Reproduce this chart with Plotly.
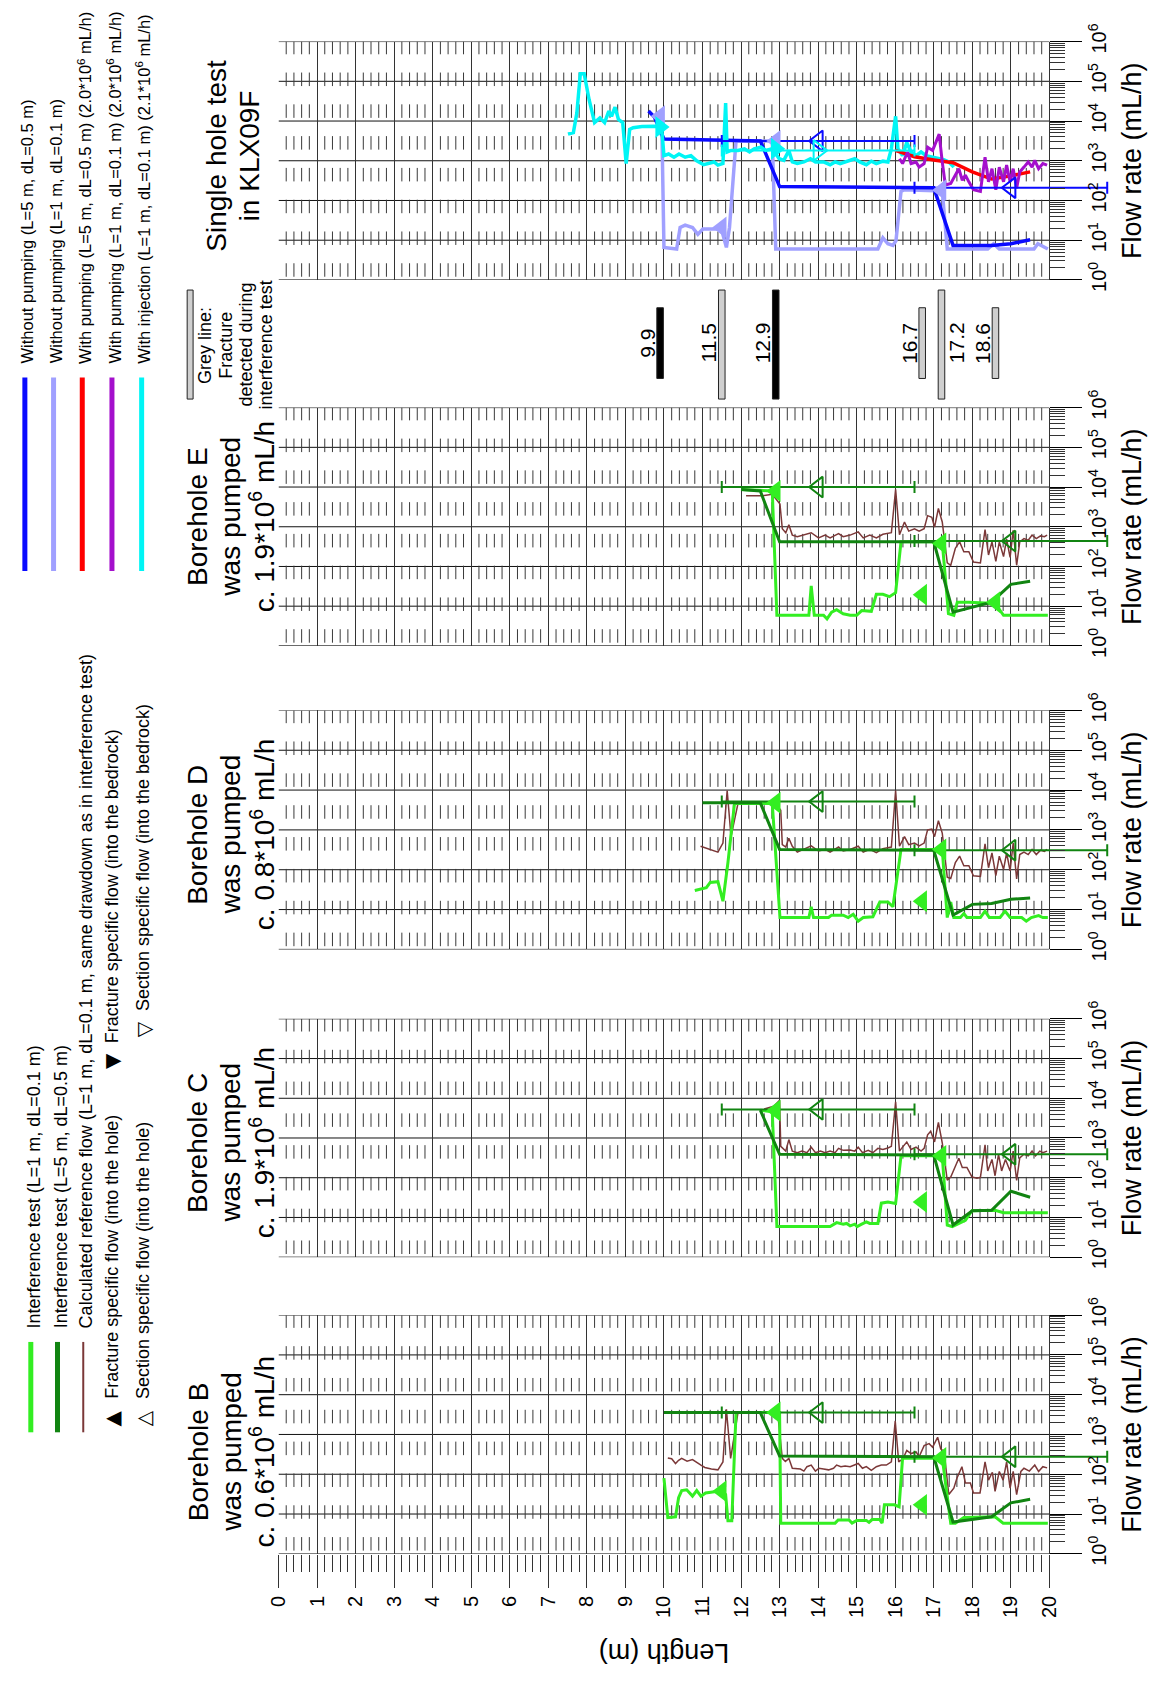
import plotly.graph_objects as go

W, H = 1155, 1681
FONT = "Liberation Sans, Arial, Helvetica, sans-serif"

# ---------------------------------------------------------------------------
# Data: (length along borehole in m, log10 of flow rate in mL/h)
# ---------------------------------------------------------------------------

# --- Borehole B was pumped ---
B_L1 = [(10.0, 1.90), (10.1, 0.91), (10.3, 0.93), (10.38, 1.41), (10.46, 1.59), (10.59, 1.61),
        (10.74, 1.45), (10.85, 1.59), (10.96, 1.45), (11.08, 1.53), (11.4, 1.57), (11.6, 1.49),
        (11.66, 0.83), (11.76, 0.83), (11.87, 3.55), (13.0, 3.55), (13.03, 0.77), (14.44, 0.77),
        (14.52, 0.85), (14.8, 0.85), (14.88, 0.77), (15.0, 0.84), (15.25, 0.84), (15.32, 0.79),
        (15.4, 0.86), (15.6, 0.86), (15.66, 0.77), (15.72, 1.23), (15.98, 1.23), (16.1, 1.18),
        (16.19, 2.40), (17.22, 2.41), (17.44, 0.77), (17.56, 0.77), (17.78, 0.91), (18.59, 0.93),
        (18.8, 0.77), (19.96, 0.77)]
B_L5 = [(10.0, 3.55), (12.5, 3.55), (13.0, 2.46), (17.0, 2.44), (17.5, 0.80), (18.0, 0.87),
        (18.5, 0.93), (19.0, 1.28), (19.5, 1.37)]
B_REF = [(10.1, 2.41), (10.2, 2.39), (10.3, 2.27), (10.38, 2.35), (10.46, 2.40), (10.6, 2.33),
         (10.74, 2.37), (10.85, 2.31), (10.96, 2.23), (11.06, 2.17), (11.23, 2.13), (11.4, 2.11),
         (11.53, 2.31), (11.62, 3.63), (11.73, 2.40), (11.92, 3.55), (12.95, 3.55), (13.07, 2.40),
         (13.15, 2.32), (13.24, 2.40), (13.33, 2.15), (13.54, 2.13), (13.63, 2.08), (13.71, 2.19),
         (13.82, 2.23), (13.93, 2.08), (14.02, 2.15), (14.14, 2.13), (14.27, 2.11), (14.4, 2.15),
         (14.48, 2.23), (14.59, 2.19), (14.7, 2.21), (14.83, 2.19), (14.96, 2.23), (15.04, 2.27),
         (15.15, 2.15), (15.25, 2.19), (15.38, 2.10), (15.51, 2.19), (15.64, 2.23), (15.77, 2.23),
         (15.9, 2.31), (16.0, 3.34), (16.09, 2.31), (16.2, 2.39), (16.3, 2.60), (16.41, 2.52),
         (16.54, 2.56), (16.62, 2.44), (16.75, 2.72), (16.88, 2.77), (16.97, 2.68), (17.1, 2.93),
         (17.18, 2.64), (17.27, 2.56), (17.39, 1.49), (17.52, 1.65), (17.6, 1.90), (17.73, 2.19),
         (17.82, 1.78), (17.95, 1.78), (18.03, 1.53), (18.2, 1.53), (18.33, 2.31), (18.42, 1.85),
         (18.52, 2.05), (18.59, 1.57), (18.7, 2.07), (18.8, 1.85), (18.89, 2.31), (18.98, 1.65),
         (19.06, 2.07), (19.15, 1.49), (19.26, 2.07), (19.34, 2.15), (19.48, 2.08), (19.62, 2.23),
         (19.72, 2.07), (19.83, 2.19), (19.94, 2.16)]
B_FRAC = [(11.5, 1.57), (12.9, 3.55), (16.7, 1.23), (17.2, 2.41)]
B_SECT = [(14.0, 3.55), (19.0, 2.44)]

# --- Borehole C was pumped ---
C_L1 = [(12.5, 3.70), (12.81, 3.66), (12.93, 0.77), (14.31, 0.77), (14.48, 0.87), (14.65, 0.83),
        (14.74, 0.85), (14.83, 0.79), (14.95, 0.83), (15.01, 0.77), (15.13, 0.83), (15.25, 0.89),
        (15.34, 0.85), (15.55, 0.85), (15.64, 1.36), (15.81, 1.39), (16.01, 1.35), (16.15, 2.55),
        (17.22, 2.55), (17.35, 0.81), (17.48, 0.77), (17.56, 0.81), (17.82, 0.93), (17.99, 1.17),
        (18.59, 1.18), (18.81, 1.12), (19.96, 1.12)]
C_L5 = [(12.5, 3.70), (13.0, 2.59), (17.0, 2.57), (17.5, 0.81), (18.0, 1.17), (18.5, 1.18),
        (19.0, 1.66), (19.5, 1.51)]
C_REF = [(12.6, 3.73), (12.85, 3.80), (13.0, 3.95), (13.03, 2.79), (13.16, 2.67), (13.24, 2.96),
         (13.33, 2.67), (13.46, 2.63), (13.58, 2.67), (13.71, 2.63), (13.82, 2.77), (13.93, 2.63),
         (14.06, 2.67), (14.18, 2.63), (14.31, 2.67), (14.44, 2.63), (14.53, 2.74), (14.65, 2.69),
         (14.83, 2.70), (14.95, 2.67), (15.04, 2.77), (15.15, 2.63), (15.30, 2.69), (15.42, 2.63),
         (15.55, 2.74), (15.68, 2.71), (15.81, 2.75), (15.90, 2.79), (16.01, 3.91), (16.11, 2.67),
         (16.19, 2.77), (16.30, 2.90), (16.41, 2.71), (16.54, 2.77), (16.67, 2.67), (16.75, 2.74),
         (16.84, 3.08), (16.92, 3.17), (17.02, 2.90), (17.12, 3.39), (17.22, 2.88), (17.35, 1.94),
         (17.44, 2.02), (17.55, 2.26), (17.65, 2.49), (17.74, 2.26), (17.86, 2.26), (17.99, 2.02),
         (18.12, 1.99), (18.21, 2.01), (18.33, 2.83), (18.40, 2.17), (18.51, 2.46), (18.59, 2.05),
         (18.68, 2.59), (18.76, 2.17), (18.86, 2.46), (18.98, 2.17), (19.06, 2.67), (19.15, 1.93),
         (19.23, 2.50), (19.34, 2.59), (19.45, 2.55), (19.55, 2.67), (19.64, 2.55), (19.75, 2.67),
         (19.83, 2.63), (19.94, 2.67)]
C_FRAC = [(12.9, 3.69), (16.7, 1.39), (17.2, 2.55)]
C_SECT = [(14.0, 3.72), (19.0, 2.59)]

# --- Borehole D was pumped ---
D_L1 = [(10.8, 1.48), (11.1, 1.55), (11.2, 1.68), (11.4, 1.70), (11.53, 1.21), (11.66, 2.18),
        (11.83, 3.66), (12.81, 3.66), (13.01, 0.80), (13.76, 0.80), (13.82, 1.07), (13.88, 0.80),
        (14.27, 0.80), (14.35, 0.86), (14.65, 0.86), (14.78, 0.80), (14.91, 0.88), (15.04, 0.71),
        (15.17, 0.80), (15.42, 0.82), (15.6, 1.19), (15.81, 1.19), (15.94, 1.07), (16.15, 2.51),
        (17.22, 2.51), (17.35, 0.80), (17.44, 1.19), (17.52, 0.80), (17.69, 0.80), (17.78, 0.90),
        (17.86, 0.80), (18.21, 0.80), (18.33, 0.96), (18.44, 0.80), (18.72, 0.80), (18.85, 0.96),
        (18.98, 0.80), (19.28, 0.80), (19.4, 0.71), (19.53, 0.80), (19.72, 0.85), (19.83, 0.80),
        (19.96, 0.80)]
D_L5 = [(11.0, 3.68), (12.5, 3.68), (13.0, 2.51), (17.0, 2.49), (17.5, 0.86), (18.0, 1.13),
        (18.5, 1.15), (19.0, 1.26), (19.5, 1.29)]
D_REF = [(10.95, 2.59), (11.18, 2.51), (11.4, 2.44), (11.53, 2.67), (11.64, 3.99), (11.74, 2.83),
         (11.92, 3.66), (12.9, 3.66), (13.03, 3.49), (13.07, 2.63), (13.16, 2.57), (13.24, 2.79),
         (13.33, 2.59), (13.46, 2.44), (13.63, 2.51), (13.82, 2.60), (14.01, 2.47), (14.18, 2.51),
         (14.31, 2.44), (14.53, 2.57), (14.65, 2.47), (14.83, 2.51), (15.04, 2.59), (15.17, 2.44),
         (15.34, 2.51), (15.51, 2.43), (15.68, 2.53), (15.9, 2.57), (16.01, 3.99), (16.11, 2.59),
         (16.24, 2.83), (16.35, 2.63), (16.5, 2.67), (16.62, 2.60), (16.75, 2.67), (16.84, 3.00),
         (16.95, 3.02), (17.02, 2.83), (17.12, 3.23), (17.22, 2.92), (17.35, 1.81), (17.44, 1.78),
         (17.56, 2.18), (17.67, 2.34), (17.78, 2.10), (17.91, 2.10), (18.03, 1.85), (18.21, 1.83),
         (18.33, 2.65), (18.42, 2.05), (18.51, 2.42), (18.61, 1.85), (18.7, 2.34), (18.81, 2.01),
         (18.89, 2.42), (18.98, 1.97), (19.06, 2.67), (19.15, 1.77), (19.23, 2.38), (19.34, 2.44),
         (19.45, 2.38), (19.55, 2.51), (19.66, 2.38), (19.77, 2.49), (19.87, 2.46), (19.94, 2.51)]
D_FRAC = [(12.9, 3.68), (16.7, 1.21), (17.2, 2.51)]
D_SECT = [(14.0, 3.71), (19.0, 2.49)]

# --- Borehole E was pumped ---
E_L1 = [(12.0, 3.94), (12.81, 3.90), (12.93, 0.77), (13.76, 0.77), (13.82, 1.51), (13.9, 0.77),
        (14.14, 0.77), (14.23, 0.68), (14.35, 0.85), (14.48, 0.91), (14.65, 0.81), (14.83, 0.77),
        (15.0, 0.77), (15.13, 0.89), (15.38, 0.87), (15.51, 1.30), (15.68, 1.30), (15.85, 1.24),
        (16.01, 1.34), (16.15, 2.62), (17.22, 2.62), (17.38, 0.81), (17.52, 0.77), (17.61, 1.10),
        (17.91, 1.10), (18.59, 1.07), (18.81, 0.77), (19.96, 0.77)]
E_L5 = [(12.0, 3.94), (12.5, 3.90), (13.0, 2.62), (17.0, 2.62), (17.5, 0.85), (18.0, 0.97),
        (18.5, 1.10), (19.0, 1.55), (19.5, 1.63)]
E_REF = [(12.13, 3.78), (12.56, 3.78), (12.81, 3.82), (13.01, 3.57), (13.07, 2.95), (13.16, 2.85),
         (13.24, 3.05), (13.33, 2.79), (13.46, 2.75), (13.63, 2.79), (13.82, 2.85), (14.01, 2.72),
         (14.18, 2.79), (14.31, 2.72), (14.53, 2.83), (14.65, 2.75), (14.83, 2.79), (15.04, 2.87),
         (15.17, 2.72), (15.34, 2.79), (15.51, 2.72), (15.68, 2.81), (15.9, 2.85), (16.01, 3.94),
         (16.11, 2.80), (16.24, 3.12), (16.35, 2.89), (16.5, 2.95), (16.62, 2.89), (16.75, 2.95),
         (16.84, 3.28), (16.95, 3.24), (17.02, 2.99), (17.12, 3.46), (17.22, 3.12), (17.35, 2.09),
         (17.44, 2.03), (17.56, 2.46), (17.67, 2.62), (17.78, 2.37), (17.91, 2.37), (18.03, 2.11),
         (18.21, 2.09), (18.33, 2.93), (18.42, 2.29), (18.51, 2.62), (18.61, 2.13), (18.7, 2.62),
         (18.81, 2.25), (18.89, 2.69), (18.98, 2.23), (19.06, 2.91), (19.15, 2.03), (19.23, 2.62),
         (19.34, 2.70), (19.45, 2.66), (19.55, 2.79), (19.66, 2.70), (19.77, 2.77), (19.87, 2.75),
         (19.94, 2.79)]
E_FRAC = [(12.9, 3.90), (16.7, 1.29), (17.2, 2.58), (18.6, 1.10)]
E_SECT = [(14.0, 4.00), (19.0, 2.64)]

# --- Single hole test in KLX09F ---
K_NOPUMP5 = [(9.6, 4.25), (9.75, 4.10), (10.0, 3.55), (12.5, 3.50), (13.0, 2.35), (17.0, 2.32),
             (17.5, 0.87), (18.5, 0.87), (19.0, 0.91), (19.5, 1.01)]
K_NOPUMP1 = [(9.85, 3.90), (9.95, 3.60), (10.0, 0.82), (10.33, 0.78), (10.42, 1.32), (10.55, 1.38),
             (10.74, 1.32), (10.88, 1.15), (11.01, 1.28), (11.24, 1.28), (11.49, 1.28), (11.62, 0.82),
             (11.7, 1.32), (11.87, 3.50), (12.81, 3.50), (12.9, 0.78), (15.55, 0.78), (15.68, 1.06),
             (15.81, 0.91), (15.94, 0.87), (16.02, 0.99), (16.15, 2.23), (16.24, 2.27), (17.22, 2.24),
             (17.35, 0.78), (18.4, 0.78), (18.55, 0.91), (18.7, 0.78), (19.6, 0.78), (19.7, 0.91),
             (19.83, 0.84), (19.96, 0.78)]
K_NOPUMP_FRAC = [(9.9, 4.12), (11.5, 1.32), (12.9, 3.50), (17.2, 2.26)]
K_NOPUMP_SECT = [(14.0, 3.50), (19.0, 2.32)]
K_PUMP5 = [(16.0, 3.26), (16.5, 3.10), (17.0, 3.02), (17.5, 2.95), (18.0, 2.72), (18.5, 2.54),
           (19.0, 2.62), (19.5, 2.72)]
K_PUMP1 = [(16.11, 3.05), (16.19, 2.93), (16.32, 3.22), (16.41, 2.93), (16.54, 2.97), (16.62, 2.84),
           (16.75, 2.93), (16.84, 3.34), (16.97, 3.26), (17.05, 3.46), (17.14, 3.67), (17.22, 2.97),
           (17.3, 2.39), (17.44, 2.43), (17.56, 2.64), (17.65, 2.80), (17.74, 2.51), (17.82, 2.64),
           (17.91, 2.47), (18.03, 2.27), (18.21, 2.23), (18.33, 3.09), (18.42, 2.47), (18.51, 2.80),
           (18.61, 2.27), (18.7, 2.84), (18.81, 2.47), (18.89, 2.89), (18.98, 2.47), (19.06, 2.80),
           (19.15, 2.31), (19.23, 2.72), (19.34, 2.84), (19.45, 2.97), (19.55, 2.84), (19.62, 3.01),
           (19.72, 2.80), (19.83, 2.93), (19.94, 2.89)]
K_INJ1 = [(7.51, 3.67), (7.65, 3.71), (7.74, 4.20), (7.83, 5.19), (7.93, 5.19), (8.06, 4.53),
          (8.2, 3.96), (8.34, 4.08), (8.46, 3.96), (8.57, 4.25), (8.64, 4.12), (8.73, 4.35),
          (8.82, 4.04), (8.93, 3.96), (9.02, 2.93), (9.11, 3.79), (9.2, 3.83), (9.43, 3.86),
          (9.75, 3.87), (9.94, 3.83), (10.0, 3.13), (10.12, 3.17), (10.26, 3.09), (10.39, 3.17),
          (10.55, 3.09), (10.7, 3.13), (10.85, 3.00), (11.03, 2.90), (11.3, 2.97), (11.4, 2.89),
          (11.53, 2.93), (11.6, 4.45), (11.64, 3.22), (11.74, 3.26), (11.92, 3.26), (12.09, 3.30),
          (12.22, 3.22), (12.34, 3.30), (12.52, 3.34), (12.64, 3.26), (12.81, 3.30), (12.99, 3.05),
          (13.11, 3.01), (13.24, 3.26), (13.33, 2.97), (13.46, 2.93), (13.63, 2.97), (13.8, 3.05),
          (13.93, 2.97), (14.14, 2.97), (14.31, 2.90), (14.44, 2.97), (14.57, 2.93), (14.74, 2.99),
          (14.95, 3.05), (15.08, 2.97), (15.25, 2.90), (15.38, 2.99), (15.51, 2.93), (15.68, 2.99),
          (15.81, 2.97), (15.9, 3.30), (16.01, 4.12), (16.07, 3.30), (16.19, 3.13), (16.3, 3.46),
          (16.41, 3.22), (16.54, 3.13), (16.67, 3.22), (16.8, 3.13), (16.97, 3.09), (17.14, 3.07),
          (17.26, 3.03), (17.39, 2.97), (17.52, 2.84)]
K_INJ_FRAC = [(9.9, 3.85), (12.9, 3.30)]
K_INJ_SECT = [(14.0, 3.26)]

# Fractures detected during the interference test
FRAC_LEN = [9.9, 11.5, 12.9, 16.7, 17.2, 18.6]
FRAC_LABEL = ["9.9", "11.5", "12.9", "16.7", "17.2", "18.6"]
FRAC_GREY = [False, True, False, True, True, True]
FRAC_LONG = [False, True, True, False, True, False]

SECTION_HALF = 2.5  # half of the 5 m section length

# Axis ticks
LEN_TICKS = list(range(0, 21))
FLOW_EXP = list(range(0, 7))

# ---------------------------------------------------------------------------
# Styles
# ---------------------------------------------------------------------------
LGREEN = "#33ee22"
DGREEN = "#118411"
BROWN = "#7b3838"
BLUE = "#0a0aff"
LPURPLE = "#a0a0ff"
RED = "#ff0000"
PURPLE = "#a410cc"
CYAN = "#00f5f5"
GRID = "#333333"

# Page geometry in pixels
PX0, PXM = 269.3, 38.95          # x pixel of length 0 and pixels per metre
L_EXT = 21.6                      # axis extent so 5 m sections can reach 21.5 m
X_DOMAIN = [PX0 / W, (PX0 + L_EXT * PXM) / W]
Y_AXIS_X = (PX0 + 20 * PXM) / W

PANELS = [
    dict(top=24.0, bottom=266.7, title=["Single hole test", "in KLX09F"], tx=[207, 240], dy=-5),
    dict(top=396.7, bottom=639.3, title=["Borehole E", "was pumped", "c. 1.9*10<sup>6</sup> mL/h"], tx=[188, 221, 253], dy=-10),
    dict(top=705.0, bottom=948.3, title=["Borehole D", "was pumped", "c. 0.8*10<sup>6</sup> mL/h"], tx=[188, 221, 253], dy=5),
    dict(top=1019.0, bottom=1261.7, title=["Borehole C", "was pumped", "c. 1.9*10<sup>6</sup> mL/h"], tx=[188, 221, 253], dy=5),
    dict(top=1320.7, bottom=1563.7, title=["Borehole B", "was pumped", "c. 0.6*10<sup>6</sup> mL/h"], tx=[188, 221, 253], dy=18),
]
STRIP = (267.0, 397.0)

fig = go.Figure()
shapes, annotations = [], []


def px(xp):
    return xp / W


def py(yp):
    return 1 - yp / H


def add_line(i, pts, color, width):
    fig.add_trace(go.Scatter(
        x=[p[0] for p in pts], y=[10 ** p[1] for p in pts], mode="lines",
        line=dict(color=color, width=width), xaxis=f"x{i}", yaxis=f"y{i}",
        hoverinfo="skip"))


def add_frac(i, pts, color, symbol="triangle-left"):
    fig.add_trace(go.Scatter(
        x=[p[0] for p in pts], y=[10 ** p[1] for p in pts], mode="markers",
        marker=dict(symbol=symbol, size=19, color=color, line=dict(width=0)),
        xaxis=f"x{i}", yaxis=f"y{i}", hoverinfo="skip"))


def add_sect(i, pts, color, symbol="triangle-left-open"):
    fig.add_trace(go.Scatter(
        x=[p[0] for p in pts], y=[10 ** p[1] for p in pts], mode="markers",
        marker=dict(symbol=symbol, size=18, color=color, line=dict(width=2, color=color)),
        error_x=dict(type="constant", value=SECTION_HALF, color=color, thickness=2, width=6),
        xaxis=f"x{i}", yaxis=f"y{i}", hoverinfo="skip"))


# ---------------------------------------------------------------------------
# Panel axes, grid and short ruler marks
# ---------------------------------------------------------------------------
minor_len = [round(0.2 * j, 1) for j in range(1, 100) if j % 5]
minor_flow = [k * 10 ** n for n in range(6) for k in range(2, 10)]
RULER_ROWS = [0.25 + 0.8 * r for r in range(8)]

layout_axes = {}
for i, p in enumerate(PANELS, start=1):
    last = (i == len(PANELS))
    xa = dict(domain=X_DOMAIN, range=[0, L_EXT], anchor=f"y{i}", tickmode="array",
              tickvals=LEN_TICKS, ticktext=[str(v) for v in LEN_TICKS],
              showgrid=True, gridcolor=GRID, gridwidth=1, zeroline=False, showline=False,
              showticklabels=False, ticks="")
    if last:
        xa.update(ticks="outside", ticklen=33, tickwidth=1, tickcolor="#333",
                  showticklabels=True, tickangle=-90, tickfont=dict(size=20, color="black"),
                  minor=dict(tickmode="array", tickvals=minor_len, ticks="outside", ticklen=17,
                             tickwidth=1, tickcolor="#333", showgrid=False))
    ya = dict(domain=[py(p["bottom"]), py(p["top"])], type="log", range=[0, 6],
              anchor="free", position=Y_AXIS_X, side="right", tickmode="array",
              tickvals=[10 ** k for k in FLOW_EXP], ticktext=[f"10<sup>{k}</sup>" for k in FLOW_EXP],
              ticks="outside", ticklen=32, tickwidth=1, tickcolor="black", tickangle=-90,
              tickfont=dict(size=20, color="black"), showgrid=False, zeroline=False, showline=False,
              minor=dict(tickmode="array", tickvals=minor_flow, ticks="outside", ticklen=15,
                         tickwidth=1, tickcolor="#333", showgrid=False))
    layout_axes[f"xaxis{i}"] = xa
    layout_axes[f"yaxis{i}"] = ya

    # decade lines
    for k in FLOW_EXP:
        shapes.append(dict(type="line", xref=f"x{i}", yref=f"y{i}", x0=0, x1=20,
                           y0=10 ** k, y1=10 ** k, line=dict(color="#111", width=1), layer="below"))

    # short ruler ticks every 0.2 m
    rx, ry = [], []
    for c in RULER_ROWS:
        lo, hi = c - 0.17, min(c + 0.17, 6.0)
        for v in minor_len:
            rx += [v, v, None]
            ry += [10 ** lo, 10 ** hi, None]
    fig.add_trace(go.Scatter(x=rx, y=ry, mode="lines", line=dict(color="#3a3a3a", width=1),
                             xaxis=f"x{i}", yaxis=f"y{i}", hoverinfo="skip"))

    # panel title and flow axis title
    yc = (p["top"] + p["bottom"]) / 2
    for t, xp in zip(p["title"], p["tx"]):
        annotations.append(dict(x=px(xp), y=py(yc + p["dy"]), xref="paper", yref="paper", text=t,
                                showarrow=False, textangle=-90, font=dict(size=28),
                                xanchor="center", yanchor="middle"))
    annotations.append(dict(x=px(1132), y=py(yc), xref="paper", yref="paper",
                            text="Flow rate (mL/h)", showarrow=False, textangle=-90,
                            font=dict(size=27), xanchor="center", yanchor="middle"))

# ---------------------------------------------------------------------------
# Data traces
# ---------------------------------------------------------------------------
# KLX09F (panel 1)
add_line(1, K_NOPUMP1, LPURPLE, 3.5)
add_line(1, K_NOPUMP5, BLUE, 3.5)
add_line(1, K_INJ1, CYAN, 3.5)
add_line(1, K_PUMP5, RED, 3.5)
add_line(1, K_PUMP1, PURPLE, 3)
add_sect(1, K_NOPUMP_SECT, BLUE)
add_sect(1, K_INJ_SECT, CYAN, "triangle-right-open")
add_frac(1, K_NOPUMP_FRAC, LPURPLE)
add_frac(1, K_INJ_FRAC, CYAN, "triangle-right")

# interference panels
for i, (l1, l5, ref, frac, sect) in zip(
        [2, 3, 4, 5],
        [(E_L1, E_L5, E_REF, E_FRAC, E_SECT), (D_L1, D_L5, D_REF, D_FRAC, D_SECT),
         (C_L1, C_L5, C_REF, C_FRAC, C_SECT), (B_L1, B_L5, B_REF, B_FRAC, B_SECT)]):
    add_line(i, ref, BROWN, 1.5)
    add_line(i, l1, LGREEN, 3)
    add_line(i, l5, DGREEN, 3)
    add_sect(i, sect, DGREEN)
    add_frac(i, frac, LGREEN)

# ---------------------------------------------------------------------------
# Fracture strip between KLX09F and Borehole E
# ---------------------------------------------------------------------------
s_top, s_bot = STRIP
layout_axes["xaxis6"] = dict(domain=X_DOMAIN, range=[0, L_EXT], anchor="y6", visible=False)
layout_axes["yaxis6"] = dict(domain=[py(s_bot), py(s_top)], range=[0, 1], anchor="x6", visible=False)


def strip_frac(yp):
    return (s_bot - yp) / (s_bot - s_top)


bar_base = [strip_frac(388) if lg else strip_frac(367) for lg in FRAC_LONG]
bar_top = [strip_frac(277) if lg else strip_frac(295) for lg in FRAC_LONG]
fig.add_trace(go.Bar(
    x=FRAC_LEN, y=[t - b for t, b in zip(bar_top, bar_base)], base=bar_base, width=0.17,
    marker=dict(color=["#cfcfcf" if g else "black" for g in FRAC_GREY],
                line=dict(color="#222", width=1)),
    xaxis="x6", yaxis="y6", hoverinfo="skip"))
for L, lab in zip(FRAC_LEN, FRAC_LABEL):
    off = 0.38 if lab == "17.2" else -0.35
    annotations.append(dict(x=L + off, y=strip_frac(331), xref="x6", yref="y6", text=lab,
                            showarrow=False, textangle=-90, font=dict(size=21),
                            xanchor="center", yanchor="middle"))

shapes.append(dict(type="rect", xref="paper", yref="paper", x0=px(177), x1=px(183),
                   y0=py(388), y1=py(277), fillcolor="#cfcfcf", line=dict(color="#222", width=1)))
for t, xp in zip(["Grey line:", "Fracture", "detected during", "interference test"], [195, 216, 237, 257]):
    annotations.append(dict(x=px(xp), y=py(333), xref="paper", yref="paper", text=t,
                            showarrow=False, textangle=-90, font=dict(size=18),
                            xanchor="center", yanchor="middle"))

# ---------------------------------------------------------------------------
# Legends
# ---------------------------------------------------------------------------
LEG1_TEXT = ["Without pumping (L=5 m, dL=0.5 m)",
             "Without pumping (L=1 m, dL=0.1 m)",
             "With pumping (L=5 m, dL=0.5 m) (2.0*10<sup>6</sup> mL/h)",
             "With pumping (L=1 m, dL=0.1 m) (2.0*10<sup>6</sup> mL/h)",
             "With injection (L=1 m, dL=0.1 m) (2.1*10<sup>6</sup> mL/h)"]
LEG1_COLOR = [BLUE, LPURPLE, RED, PURPLE, CYAN]
for t, c, xp in zip(LEG1_TEXT, LEG1_COLOR, [13, 42, 71, 101, 131]):
    shapes.append(dict(type="line", xref="paper", yref="paper", x0=px(xp), x1=px(xp),
                       y0=py(366), y1=py(563), line=dict(color=c, width=5)))
    annotations.append(dict(x=px(xp + 2), y=py(354), xref="paper", yref="paper", text=t,
                            showarrow=False, textangle=-90, font=dict(size=16.5),
                            xanchor="center", yanchor="bottom"))

LEG2_TEXT = ["Interference test (L=1 m, dL=0.1 m)",
             "Interference test (L=5 m, dL=0.5 m)",
             "Calculated reference flow (L=1 m, dL=0.1 m, same drawdown as in interference test)"]
LEG2_COLOR = [LGREEN, DGREEN, BROWN]
LEG2_WIDTH = [5, 5, 2]
for t, c, w, xp in zip(LEG2_TEXT, LEG2_COLOR, LEG2_WIDTH, [19, 46, 72]):
    shapes.append(dict(type="line", xref="paper", yref="paper", x0=px(xp), x1=px(xp),
                       y0=py(1348), y1=py(1440), line=dict(color=c, width=w)))
    annotations.append(dict(x=px(xp + 3), y=py(1336), xref="paper", yref="paper", text=t,
                            showarrow=False, textangle=-90, font=dict(size=18),
                            xanchor="center", yanchor="bottom"))

LEG3 = [("▲", "Fracture specific flow (into the hole)", 101, 1426, 1408),
        ("▼", "Fracture specific flow (into the bedrock)", 101, 1062, 1046),
        ("△", "Section specific flow (into the hole)", 133, 1426, 1408),
        ("▽", "Section specific flow (into the bedrock)", 133, 1030, 1013)]
for g, t, xp, gy, ty in LEG3:
    annotations.append(dict(x=px(xp), y=py(gy), xref="paper", yref="paper", text=g,
                            showarrow=False, textangle=-90, font=dict(size=20, family="DejaVu Sans"),
                            xanchor="center", yanchor="middle"))
    annotations.append(dict(x=px(xp), y=py(ty), xref="paper", yref="paper", text=t,
                            showarrow=False, textangle=-90, font=dict(size=18),
                            xanchor="center", yanchor="bottom"))

annotations.append(dict(x=px(659), y=py(1664), xref="paper", yref="paper", text="Length (m)",
                        showarrow=False, textangle=180, font=dict(size=27),
                        xanchor="center", yanchor="middle"))

fig.update_layout(
    width=W, height=H, margin=dict(l=0, r=0, t=0, b=0),
    paper_bgcolor="white", plot_bgcolor="rgba(0,0,0,0)", showlegend=False,
    font=dict(family=FONT, color="black"), barmode="overlay",
    shapes=shapes, annotations=annotations, **layout_axes)

# the page body keeps no margin so the figure sits at the window origin
fig.write_html("out.html", post_script="document.body.style.margin='0';")
